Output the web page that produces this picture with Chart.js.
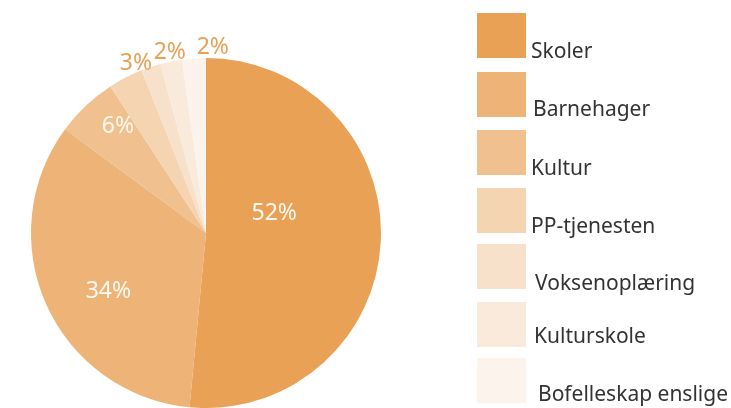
<!DOCTYPE html>
<html>
<head>
<meta charset="utf-8">
<script src="https://cdn.jsdelivr.net/npm/chart.js@4/dist/chart.umd.min.js"></script>
<style>
html,body{margin:0;padding:0;background:#fff;}
#wrap{width:731px;height:408px;position:relative;}
</style>
</head>
<body>
<div id="wrap"><canvas id="c" width="731" height="408"></canvas></div>
<script>
const categories = ["Skoler","Barnehager","Kultur","PP-tjenesten","Voksenoplæring","Kulturskole","Bofelleskap enslige"];
const shares = [51.5, 33.6, 5.7, 3.2, 1.8, 2.0, 2.2];
const colors = ["#E8A155","#EDB377","#F0C08F","#F5D4B1","#F8E1CA","#F9EADC","#FBF3EC"];
const showLabel = [true, true, true, true, false, true, true];
// label placement: [angle from top clockwise (deg), fraction of radius]
const labelPolar = [[73.9,0.406],[239,0.651],[320.4,0.789],[337.6,1.05],null,[348.7,1.055],[2.1,1.06]];
const labelInside = [true, true, true, false, false, false, false];
// legend layout
const legendBoxTops = [13, 72, 130, 188, 244, 302, 358];
const legendTextX = [531, 533, 531, 531, 535, 534, 538];
const legendBaselines = [58, 116, 175, 233, 290, 343, 401];

const FONT = "'Noto Sans', sans-serif";

const pieLabels = {
  id: 'pieLabels',
  afterDatasetsDraw(chart) {
    const ctx = chart.ctx;
    const meta = chart.getDatasetMeta(0);
    const arc0 = meta.data[0];
    const cx = arc0.x, cy = arc0.y, R = arc0.outerRadius;
    ctx.save();
    ctx.font = "23px " + FONT;
    ctx.textAlign = 'center';
    ctx.textBaseline = 'middle';
    shares.forEach((v, i) => {
      if (!showLabel[i] || !labelPolar[i]) return;
      const a = labelPolar[i][0] * Math.PI / 180;
      const r = labelPolar[i][1] * R;
      const x = cx + r * Math.sin(a);
      const y = cy - r * Math.cos(a);
      ctx.fillStyle = labelInside[i] ? '#FFF9F2' : '#E8A155';
      ctx.fillText(Math.round(v) + '%', x, y);
    });
    ctx.restore();
  }
};

const customLegend = {
  id: 'customLegend',
  afterDraw(chart) {
    const ctx = chart.ctx;
    const x0 = 477, boxW = 49, boxH = 45;
    ctx.save();
    ctx.font = "21px " + FONT;
    ctx.textAlign = 'left';
    ctx.textBaseline = 'alphabetic';
    chart.data.labels.forEach((lab, i) => {
      const y = legendBoxTops[i];
      ctx.fillStyle = chart.data.datasets[0].backgroundColor[i];
      ctx.fillRect(x0, y, boxW, boxH);
      ctx.fillStyle = '#333333';
      ctx.fillText(lab, legendTextX[i], legendBaselines[i]);
    });
    ctx.restore();
  }
};

new Chart(document.getElementById('c'), {
  type: 'pie',
  data: {
    labels: categories,
    datasets: [{
      data: shares,
      backgroundColor: colors,
      borderWidth: 0
    }]
  },
  options: {
    responsive: false,
    animation: false,
    layout: { padding: { left: 31, top: 58, right: 350, bottom: 0 } },
    plugins: {
      legend: { display: false },
      tooltip: { enabled: false }
    }
  },
  plugins: [pieLabels, customLegend]
});
</script>
</body>
</html>
